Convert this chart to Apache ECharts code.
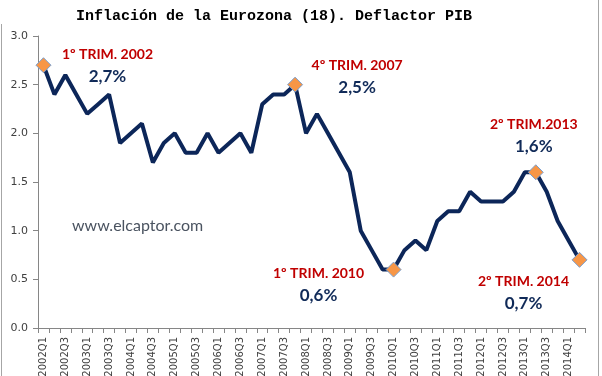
<!DOCTYPE html>
<html>
<head>
<meta charset="utf-8">
<script src="https://cdn.jsdelivr.net/npm/echarts@6/dist/echarts.min.js"></script>
<style>
  html, body { margin: 0; padding: 0; background: #fff; }
  #chart { width: 602px; height: 376px; }
</style>
</head>
<body>
<div id="chart"></div>
<script>
// trimestres 2002Q1 .. 2014Q2
const quarters = [
  '2002Q1', '2002Q2', '2002Q3', '2002Q4',
  '2003Q1', '2003Q2', '2003Q3', '2003Q4',
  '2004Q1', '2004Q2', '2004Q3', '2004Q4',
  '2005Q1', '2005Q2', '2005Q3', '2005Q4',
  '2006Q1', '2006Q2', '2006Q3', '2006Q4',
  '2007Q1', '2007Q2', '2007Q3', '2007Q4',
  '2008Q1', '2008Q2', '2008Q3', '2008Q4',
  '2009Q1', '2009Q2', '2009Q3', '2009Q4',
  '2010Q1', '2010Q2', '2010Q3', '2010Q4',
  '2011Q1', '2011Q2', '2011Q3', '2011Q4',
  '2012Q1', '2012Q2', '2012Q3', '2012Q4',
  '2013Q1', '2013Q2', '2013Q3', '2013Q4',
  '2014Q1', '2014Q2'
]

// deflactor PIB, % interanual
const deflator = [
  2.7, 2.4, 2.6, 2.4,
  2.2, 2.3, 2.4, 1.9,
  2.0, 2.1, 1.7, 1.9,
  2.0, 1.8, 1.8, 2.0,
  1.8, 1.9, 2.0, 1.8,
  2.3, 2.4, 2.4, 2.5,
  2.0, 2.2, 2.0, 1.8,
  1.6, 1.0, 0.8, 0.6,
  0.6, 0.8, 0.9, 0.8,
  1.1, 1.2, 1.2, 1.4,
  1.3, 1.3, 1.3, 1.4,
  1.6, 1.6, 1.4, 1.1,
  0.9, 0.7
]

const yTicks = ['0.0', '0.5', '1.0', '1.5', '2.0', '2.5', '3.0']

// puntos destacados
const highlightQuarters = ['2002Q1', '2007Q4', '2010Q1', '2013Q2', '2014Q2']
const highlightNames = ['1º TRIM. 2002', '4º TRIM. 2007', '1º TRIM. 2010', '2º TRIM.2013', '2º TRIM. 2014']
const highlightOffsets = [[64, 0], [62, -8], [-75, 15], [-2, -37], [-56, 33]]

function highlightData() {
  return highlightQuarters.map((q, i) => {
    const v = deflator[quarters.indexOf(q)]
    return {
      value: [q, v],
      name: highlightNames[i],
      pct: v.toFixed(1).replace('.', ',') + '%',
      label: { offset: highlightOffsets[i] }
    }
  })
}

const option = {
  animation: false,
  backgroundColor: '#fff',
  title: {
    text: 'Inflación de la Eurozona (18). Deflactor PIB',
    left: 71,
    top: 4,
    textStyle: {
      fontFamily: '"Liberation Mono", "DejaVu Sans Mono", monospace',
      fontWeight: 'bold',
      fontSize: 15,
      color: '#000'
    }
  },
  grid: {
    left: 38,
    right: 17,
    top: 36,
    bottom: 48,
    containLabel: false,
    outerBoundsMode: 'none'
  },
  xAxis: {
    type: 'category',
    data: quarters,
    boundaryGap: true,
    axisLine: { lineStyle: { color: '#868686', width: 1 } },
    axisTick: { show: true, interval: 0, length: 5, lineStyle: { color: '#868686' } },
    axisLabel: {
      interval: 1,
      rotate: 90,
      margin: 9,
      fontFamily: '"DejaVu Sans", sans-serif',
      fontSize: 10,
      color: '#404040'
    },
    splitLine: { show: false }
  },
  yAxis: {
    type: 'value',
    min: 0,
    max: 3,
    interval: 0.5,
    axisLine: { show: true, lineStyle: { color: '#868686', width: 1 } },
    axisTick: { show: true, length: 5, lineStyle: { color: '#868686' } },
    axisLabel: {
      margin: 10,
      fontFamily: '"DejaVu Sans", sans-serif',
      fontSize: 11,
      color: '#404040',
      formatter: (v) => yTicks[Math.round(v / 0.5)]
    },
    splitLine: { show: false }
  },
  series: [
    {
      type: 'line',
      data: deflator,
      showSymbol: false,
      lineStyle: { color: '#0C2659', width: 4 },
      emphasis: { disabled: true },
      z: 2
    },
    {
      type: 'scatter',
      data: highlightData(),
      symbol: 'diamond',
      symbolSize: 15,
      itemStyle: { color: '#F79646', borderColor: '#7A9FCF', borderWidth: 1, opacity: 1 },
      emphasis: { disabled: true },
      z: 3,
      label: {
        show: true,
        position: 'inside',
        align: 'center',
        verticalAlign: 'middle',
        formatter: (p) => '{t|' + p.data.name + '}\n{p|' + p.data.pct + '}',
        rich: {
          t: {
            fontFamily: 'Lato, "Open Sans", sans-serif',
            fontWeight: 'bold',
            fontSize: 14,
            color: '#C00000',
            lineHeight: 22,
            align: 'center'
          },
          p: {
            fontFamily: 'Lato, "Open Sans", sans-serif',
            fontWeight: 'bold',
            fontSize: 17,
            color: '#102A58',
            lineHeight: 22,
            align: 'center'
          }
        }
      }
    }
  ],
  graphic: [
    {
      type: 'text',
      left: 72,
      top: 218,
      style: {
        text: 'www.elcaptor.com',
        fontFamily: 'Lato, "Open Sans", sans-serif',
        fontSize: 16,
        fill: '#4A5360'
      }
    },
    // marco del gráfico
    {
      type: 'line',
      shape: { x1: 1.5, y1: 24, x2: 1.5, y2: 376 },
      style: { stroke: '#A6A6A6', lineWidth: 1 }
    },
    {
      type: 'line',
      shape: { x1: 598.5, y1: 0, x2: 598.5, y2: 376 },
      style: { stroke: '#A6A6A6', lineWidth: 1 }
    }
  ]
}

echarts.init(document.getElementById('chart')).setOption(option)
</script>
</body>
</html>
